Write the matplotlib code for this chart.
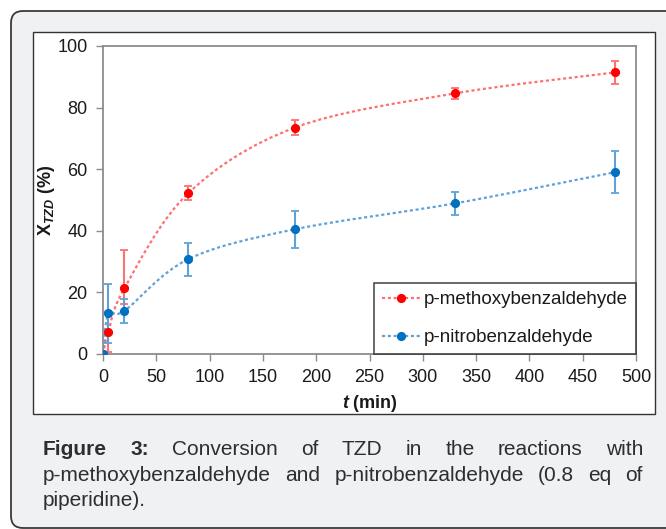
import matplotlib
matplotlib.use("Agg")
import matplotlib.pyplot as plt
from matplotlib.path import Path
from matplotlib.patches import PathPatch, FancyBboxPatch, Rectangle
from matplotlib.lines import Line2D
import numpy as np

# ---------------- data ----------------
t_min = [0, 5, 20, 80, 180, 330, 480]
methoxy = [0, 7.1, 21.3, 52.2, 73.5, 84.6, 91.4]
methoxy_err_low = [0, 6.5, 5.0, 2.2, 2.5, 1.8, 3.6]
methoxy_err_high = [0, 6.5, 12.5, 2.2, 2.5, 1.8, 3.6]
nitro = [0, 13.2, 14.0, 30.8, 40.5, 48.9, 59.0]
nitro_err = [0, 9.6, 4.0, 5.4, 6.0, 3.8, 6.8]
series_labels = ["p-methoxybenzaldehyde", "p-nitrobenzaldehyde"]
x_ticks = [0, 50, 100, 150, 200, 250, 300, 350, 400, 450, 500]
y_ticks = [0, 20, 40, 60, 80, 100]
caption_lines = [
    [("Figure", True), ("3:", True), ("Conversion", False), ("of", False), ("TZD", False),
     ("in", False), ("the", False), ("reactions", False), ("with", False)],
    [("p-methoxybenzaldehyde", False), ("and", False), ("p-nitrobenzaldehyde", False),
     ("(0.8", False), ("eq", False), ("of", False)],
    [("piperidine).", False)],
]

plt.rcParams['font.family'] = ['Liberation Sans', 'DejaVu Sans']
plt.rcParams['mathtext.fontset'] = 'custom'
plt.rcParams['mathtext.rm'] = 'Liberation Sans'
plt.rcParams['mathtext.it'] = 'Liberation Sans:italic'
plt.rcParams['mathtext.bf'] = 'Liberation Sans:bold'
plt.rcParams['mathtext.bfit'] = 'Liberation Sans:italic:bold'

W, H = 666, 529
fig = plt.figure(figsize=(W / 100, H / 100), dpi=100)
fig.patch.set_facecolor('white')

# outer rounded panel
outer = FancyBboxPatch((11 / 100, 1.0 / 100), (700 - 11) / 100, (518 - 1.0) / 100,
                       boxstyle="round,pad=0,rounding_size=0.12",
                       transform=fig.dpi_scale_trans, facecolor='#f0f1f3',
                       edgecolor='#3a3a3a', linewidth=1.3, zorder=0)
fig.patches.append(outer)
# inner white chart panel
inner = Rectangle((33 / 100, (H - 414) / 100), (655 - 33) / 100, (414 - 32) / 100,
                  transform=fig.dpi_scale_trans, facecolor='white',
                  edgecolor='#333333', linewidth=1.0, zorder=1)
fig.patches.append(inner)

ax_l, ax_r, ax_t, ax_b = 103, 636, 46, 354
ax = fig.add_axes([ax_l / W, (H - ax_b) / H, (ax_r - ax_l) / W, (ax_b - ax_t) / H])
ax.set_zorder(2)

red = '#ff0000'
red_light = '#ff7070'
blue = '#0070c0'
blue_light = '#5fa2da'


def smooth_path(x, y):
    x = np.asarray(x, float)
    y = np.asarray(y, float)
    pts = np.column_stack([x, y])
    n = len(pts)
    verts = [pts[0]]
    codes = [Path.MOVETO]
    for i in range(n - 1):
        p0 = pts[i - 1] if i > 0 else pts[i]
        p1 = pts[i]
        p2 = pts[i + 1]
        p3 = pts[i + 2] if i + 2 < n else pts[i + 1]
        c1 = p1 + (p2 - p0) / 6.0
        c2 = p2 - (p3 - p1) / 6.0
        verts += [c1, c2, p2]
        codes += [Path.CURVE4] * 3
    return Path(verts, codes)


for yv, lc in [(methoxy, red_light), (nitro, blue_light)]:
    patch = PathPatch(smooth_path(t_min, yv), facecolor='none', edgecolor=lc,
                      linewidth=1.6, linestyle=(0, (1.4, 1.2)), zorder=2)
    ax.add_patch(patch)

ax.errorbar(t_min, methoxy, yerr=[methoxy_err_low, methoxy_err_high], fmt='none',
            ecolor=red_light, elinewidth=1.5, capsize=3, capthick=1.3, zorder=3)
ax.errorbar(t_min, nitro, yerr=nitro_err, fmt='none',
            ecolor=blue_light, elinewidth=1.5, capsize=3, capthick=1.3, zorder=3)
ax.plot(t_min, methoxy, linestyle='none', marker='o', markersize=5.6, color=red, zorder=4)
ax.plot(t_min, nitro, linestyle='none', marker='o', markersize=5.6, color=blue, zorder=4)

ax.set_xlim(0, 500)
ax.set_ylim(0, 100)
ax.set_xticks(x_ticks)
ax.set_yticks(y_ticks)
for s in ax.spines.values():
    s.set_color('#8c8c8c')
    s.set_linewidth(1.3)
ax.tick_params(axis='both', direction='out', length=5, width=1, color='#8c8c8c',
               labelsize=13, labelcolor='#1a1a1a', pad=6)

ax.set_xlabel(r'$\mathbfit{t}$ (min)', fontsize=13, fontweight='bold', color='#1a1a1a', labelpad=5)
ax.set_ylabel(r'$\mathbf{X}_{\mathbfit{TZD}}$ (%)', fontsize=13, fontweight='bold',
              color='#1a1a1a', labelpad=0)

handles = [
    Line2D([], [], color=red_light, linestyle=(0, (1.4, 1.2)), linewidth=1.6,
           marker='o', markersize=5.6, markerfacecolor=red, markeredgecolor=red),
    Line2D([], [], color=blue_light, linestyle=(0, (1.4, 1.2)), linewidth=1.6,
           marker='o', markersize=5.6, markerfacecolor=blue, markeredgecolor=blue),
]
leg = ax.legend(handles, series_labels, loc='lower right', bbox_to_anchor=(1, 0),
                borderaxespad=0.0, fontsize=13.5, frameon=True, fancybox=False,
                handlelength=2.05, handletextpad=0.2, labelspacing=1.1,
                borderpad=0.42, numpoints=1)
leg.get_frame().set_edgecolor('#222222')
leg.get_frame().set_linewidth(1.2)
for txt in leg.get_texts():
    txt.set_color('#1a1a1a')

# justified caption
renderer = fig.canvas.get_renderer()
cap_left, cap_right = 43, 643
baselines = [455, 481, 506]
for li, (words, base) in enumerate(zip(caption_lines, baselines)):
    objs = []
    for w, bold in words:
        tx = fig.text(0, 1 - base / H, w, fontsize=15, color='#2e2e2e',
                      fontweight='bold' if bold else 'normal', va='baseline', ha='left')
        objs.append(tx)
    widths = [o.get_window_extent(renderer).width for o in objs]
    if li < len(caption_lines) - 1 and len(objs) > 1:
        gap = (cap_right - cap_left - sum(widths)) / (len(objs) - 1)
    else:
        gap = 4.5
    x = cap_left
    for o, wd in zip(objs, widths):
        o.set_x(x / W)
        x += wd + gap

fig.savefig('out.png', dpi=100)
